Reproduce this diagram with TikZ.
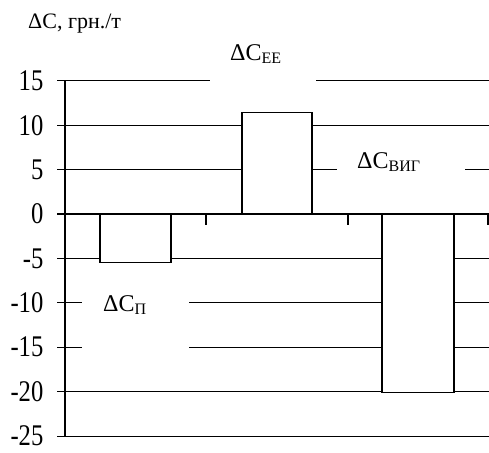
\documentclass[tikz,border=0pt]{standalone}
\usepackage{fontspec}
\setmainfont{Liberation Serif}
\newcommand\ticktxt[1]{\scalebox{0.82}[1]{#1}}
\newcommand\subtxt[1]{\raisebox{-3pt}{\fontsize{16pt}{16pt}\selectfont #1}}
\tikzset{
  grid line/.style={line width=0.9pt, black},
  bar box/.style={draw=black, line width=1.3pt, fill=white},
  tick lab/.style={anchor=east, inner sep=0pt, font=\fontsize{30pt}{30pt}\selectfont},
  series lab/.style={anchor=base west, inner sep=0pt, font=\fontsize{24pt}{24pt}\selectfont},
  label mask/.style={fill=white, draw=none},
}
\begin{document}
\begin{tikzpicture}[x=1pt, y=-1pt]
\useasboundingbox (0,0) rectangle (489,452);
% value -> y
\def\yz{214}
\def\ys{8.88}
% gridlines with y tick marks
\foreach \v in {15,10,5,-5,-10,-15,-20,-25}{
  \draw[grid line] (57,{\yz-\ys*\v}) -- (488.5,{\yz-\ys*\v});
}
% tick labels
\foreach \v/\nm in {15/a,10/b,5/c,0/d,-5/e,-10/f,-15/g,-20/h,-25/i}{
  \node[tick lab] (t\nm) at (43.5,{\yz-\ys*\v}) {\ticktxt{\v}};
}
% label masks and labels
\fill[label mask] (210,38) rectangle (316,96);
\node[series lab] (lee) at (230,60) {ΔC\subtxt{EE}};
\fill[label mask] (337,142) rectangle (465,200);
\node[series lab] (lvig) at (357,168) {ΔC\subtxt{ВИГ}};
\fill[label mask] (82,284) rectangle (189,362);
\node[series lab] (lp) at (103,311) {ΔC\subtxt{П}};
% title
\node[anchor=base west, inner sep=0pt, font=\fontsize{22pt}{22pt}\selectfont] (title) at (28,29) {ΔC, грн./т};
% bars
\draw[bar box] (100,\yz) rectangle (171,{\yz-\ys*(-5.5)});
\draw[bar box] (242,\yz) rectangle (312,{\yz-\ys*11.4});
\draw[bar box] (382,\yz) rectangle (454,{\yz-\ys*(-20.1)});
% axes
\draw[line width=1.4pt] (65,{\yz-\ys*15}) -- (65,{\yz-\ys*(-25)});
\draw[line width=2.2pt] (57,\yz) -- (489,\yz);
\foreach \x in {65,206.3,347.7,488}{
  \draw[line width=2pt] (\x,\yz) -- (\x,225);
}
\end{tikzpicture}
\end{document}
